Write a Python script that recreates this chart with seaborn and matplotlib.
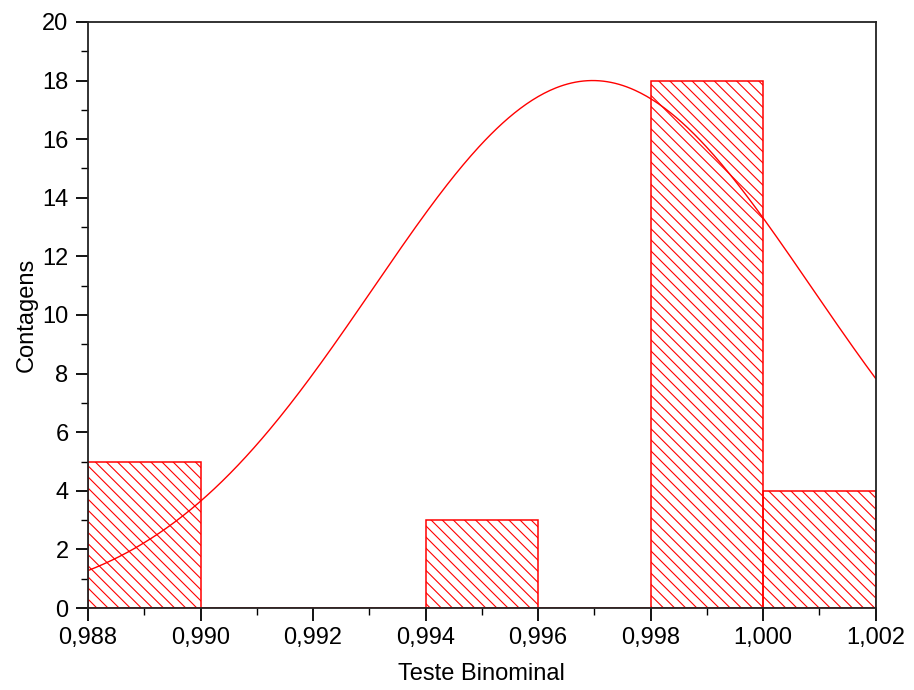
import numpy as np
import matplotlib
matplotlib.use('Agg')
import matplotlib.pyplot as plt
import seaborn as sns
from matplotlib.ticker import MultipleLocator, FuncFormatter

# histogram bins and counts
bin_edges = [0.988, 0.990, 0.992, 0.994, 0.996, 0.998, 1.000, 1.002]
counts = [5, 0, 0, 3, 0, 18, 4]
# normal fit parameters (peak height, mean, sigma)
fit_peak = 18.0
fit_mean = 0.99697
fit_sigma = 0.0039

sns.set_style('ticks')
plt.rcParams['font.family'] = ['Liberation Sans', 'DejaVu Sans']
plt.rcParams['hatch.linewidth'] = 0.8
plt.rcParams['text.color'] = 'black'
plt.rcParams['axes.labelcolor'] = 'black'
plt.rcParams['xtick.color'] = 'black'
plt.rcParams['ytick.color'] = 'black'

fig = plt.figure(figsize=(9.14, 6.90), dpi=100)
ax = fig.add_axes([0.0963, 0.1188, 0.8617, 0.8494])

centers = [(a + b) / 2 for a, b in zip(bin_edges[:-1], bin_edges[1:])]
sns.histplot(x=centers, weights=counts, bins=bin_edges, fill=False, color='red',
             hatch='\\\\\\', linewidth=1.1, ax=ax)

xs = np.linspace(bin_edges[0], bin_edges[-1], 400)
ys = fit_peak * np.exp(-(xs - fit_mean) ** 2 / (2 * fit_sigma ** 2))
sns.lineplot(x=xs, y=ys, color='red', linewidth=1.0, ax=ax)

ax.set_xlim(0.988, 1.002)
ax.set_ylim(0, 20)
ax.xaxis.set_major_locator(MultipleLocator(0.002))
ax.xaxis.set_minor_locator(MultipleLocator(0.001))
ax.yaxis.set_major_locator(MultipleLocator(2))
ax.yaxis.set_minor_locator(MultipleLocator(1))
ax.xaxis.set_major_formatter(FuncFormatter(lambda v, p: f'{v:.3f}'.replace('.', ',')))
ax.yaxis.set_major_formatter(FuncFormatter(lambda v, p: f'{v:.0f}'))

for s in ax.spines.values():
    s.set_visible(True)
    s.set_linewidth(1.3)
    s.set_color('#222222')
ax.tick_params(which='major', direction='out', length=9, width=1.3, labelsize=17, pad=5)
ax.tick_params(which='minor', direction='out', length=5, width=1.0)
ax.tick_params(top=False, right=False)

ax.set_xlabel('Teste Binominal', fontsize=17, labelpad=10)
ax.set_ylabel('Contagens', fontsize=17, labelpad=3)

fig.savefig('out.png', dpi=100)
